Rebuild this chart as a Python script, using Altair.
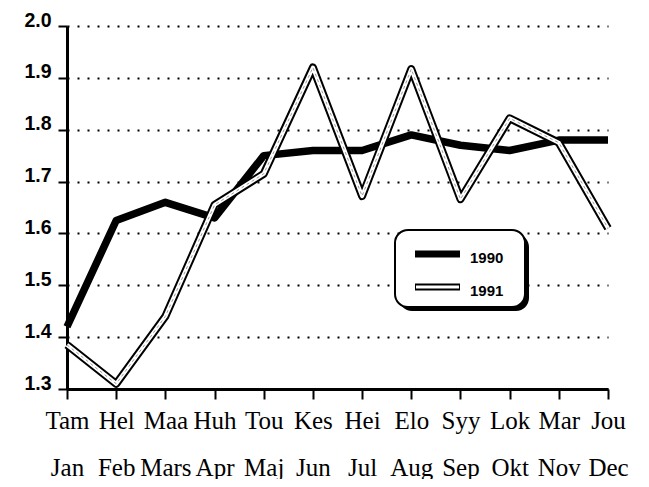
import altair as alt
import pandas as pd

months_fi = ["Tam", "Hel", "Maa", "Huh", "Tou", "Kes", "Hei", "Elo", "Syy", "Lok", "Mar", "Jou"]
months_sv = ["Jan", "Feb", "Mars", "Apr", "Maj", "Jun", "Jul", "Aug", "Sep", "Okt", "Nov", "Dec"]
month_idx = list(range(1, 13))
v1990 = [1.42, 1.625, 1.66, 1.63, 1.75, 1.76, 1.76, 1.79, 1.77, 1.76, 1.78, 1.78]
v1991 = [1.385, 1.31, 1.44, 1.655, 1.715, 1.92, 1.672, 1.917, 1.666, 1.822, 1.775, 1.61]
y_ticks = [1.3, 1.4, 1.5, 1.6, 1.7, 1.8, 1.9, 2.0]
years = ["1990", "1991"]

rows = []
for m, a, b in zip(month_idx, v1990, v1991):
    rows.append({"month": m, "value": a, "year": years[0]})
    rows.append({"month": m, "value": b, "year": years[1]})
df = pd.DataFrame(rows)

fi_js = "[" + ",".join(f"'{s}'" for s in months_fi) + "]"
sv_js = "[" + ",".join(f"'{s}'" for s in months_sv) + "]"
label_expr = f"[{fi_js}[datum.value-1], {sv_js}[datum.value-1]]"

W, H = 541, 363

x_enc = alt.X(
    "month:Q",
    scale=alt.Scale(domain=[1, 12], nice=False, zero=False),
    axis=alt.Axis(
        values=month_idx, title=None, grid=False,
        labelExpr=label_expr, labelFont="Liberation Serif", labelFontSize=25,
        labelColor="black", labelLineHeight=47, labelBaseline="alphabetic",
        labelPadding=29, labelOverlap=False, labelFlush=False, labelBound=False,
        tickSize=10, tickWidth=2, tickColor="black",
        domainWidth=3, domainColor="black",
    ),
)
y_enc = alt.Y(
    "value:Q",
    scale=alt.Scale(domain=[1.3, 2.0], nice=False, zero=False),
    axis=alt.Axis(
        values=y_ticks, format=".1f", title=None,
        labelFont="Liberation Sans", labelFontWeight="bold", labelFontSize=19.5,
        labelColor="black", labelBaseline="alphabetic", labelPadding=7,
        labelFlush=False, labelOverlap=False,
        tickSize=9, tickWidth=2, tickColor="black",
        domainWidth=3, domainColor="black",
        grid=True, gridColor="black", gridWidth=2, gridDash=[2, 8], gridCap="butt",
    ),
)

base = alt.Chart(df).encode(x=x_enc, y=y_enc)

l1990 = base.transform_filter(alt.datum.year == years[0]).mark_line(
    color="black", strokeWidth=7.5, strokeJoin="round")
l1991_out = base.transform_filter(alt.datum.year == years[1]).mark_line(
    color="black", strokeWidth=8, strokeJoin="round")
l1991_in = base.transform_filter(alt.datum.year == years[1]).mark_line(
    color="white", strokeWidth=4, strokeJoin="round")
l1991_mid = base.transform_filter(alt.datum.year == years[1]).mark_line(
    color="#9a9a9a", strokeWidth=1, strokeDash=[3, 3])

one = pd.DataFrame({"k": [0]})
leg_df = pd.DataFrame({"year": years})

shadow = alt.Chart(one).mark_rect(color="black", cornerRadius=13).encode(
    x=alt.value(332), x2=alt.value(462), y=alt.value(208), y2=alt.value(285))
box = alt.Chart(one).mark_rect(fill="white", stroke="black", strokeWidth=2, cornerRadius=13).encode(
    x=alt.value(328), x2=alt.value(458), y=alt.value(204), y2=alt.value(281))
sw1 = alt.Chart(one).mark_rule(color="black", strokeWidth=7).encode(
    x=alt.value(348), x2=alt.value(393), y=alt.value(228))
sw2o = alt.Chart(one).mark_rule(color="black", strokeWidth=7).encode(
    x=alt.value(348), x2=alt.value(393), y=alt.value(261))
sw2i = alt.Chart(one).mark_rule(color="white", strokeWidth=3).encode(
    x=alt.value(349), x2=alt.value(392), y=alt.value(261))
t1 = alt.Chart(leg_df).transform_filter(alt.datum.year == years[0]).mark_text(
    font="Liberation Sans", fontWeight="bold", fontSize=15, align="left", baseline="middle", color="black"
).encode(x=alt.value(403), y=alt.value(232), text="year:N")
t2 = alt.Chart(leg_df).transform_filter(alt.datum.year == years[1]).mark_text(
    font="Liberation Sans", fontWeight="bold", fontSize=15, align="left", baseline="middle", color="black"
).encode(x=alt.value(403), y=alt.value(265), text="year:N")

chart = alt.layer(
    l1990, l1991_out, l1991_in, l1991_mid, shadow, box, sw1, sw2o, sw2i, t1, t2
).properties(
    width=W, height=H,
    autosize=alt.AutoSizeParams(type="none"),
    padding={"left": 59, "top": 18, "right": 30, "bottom": 90},
    background="white",
).configure_view(stroke=None)

chart.save("out.html", embed_options={"renderer": "svg", "actions": False})
